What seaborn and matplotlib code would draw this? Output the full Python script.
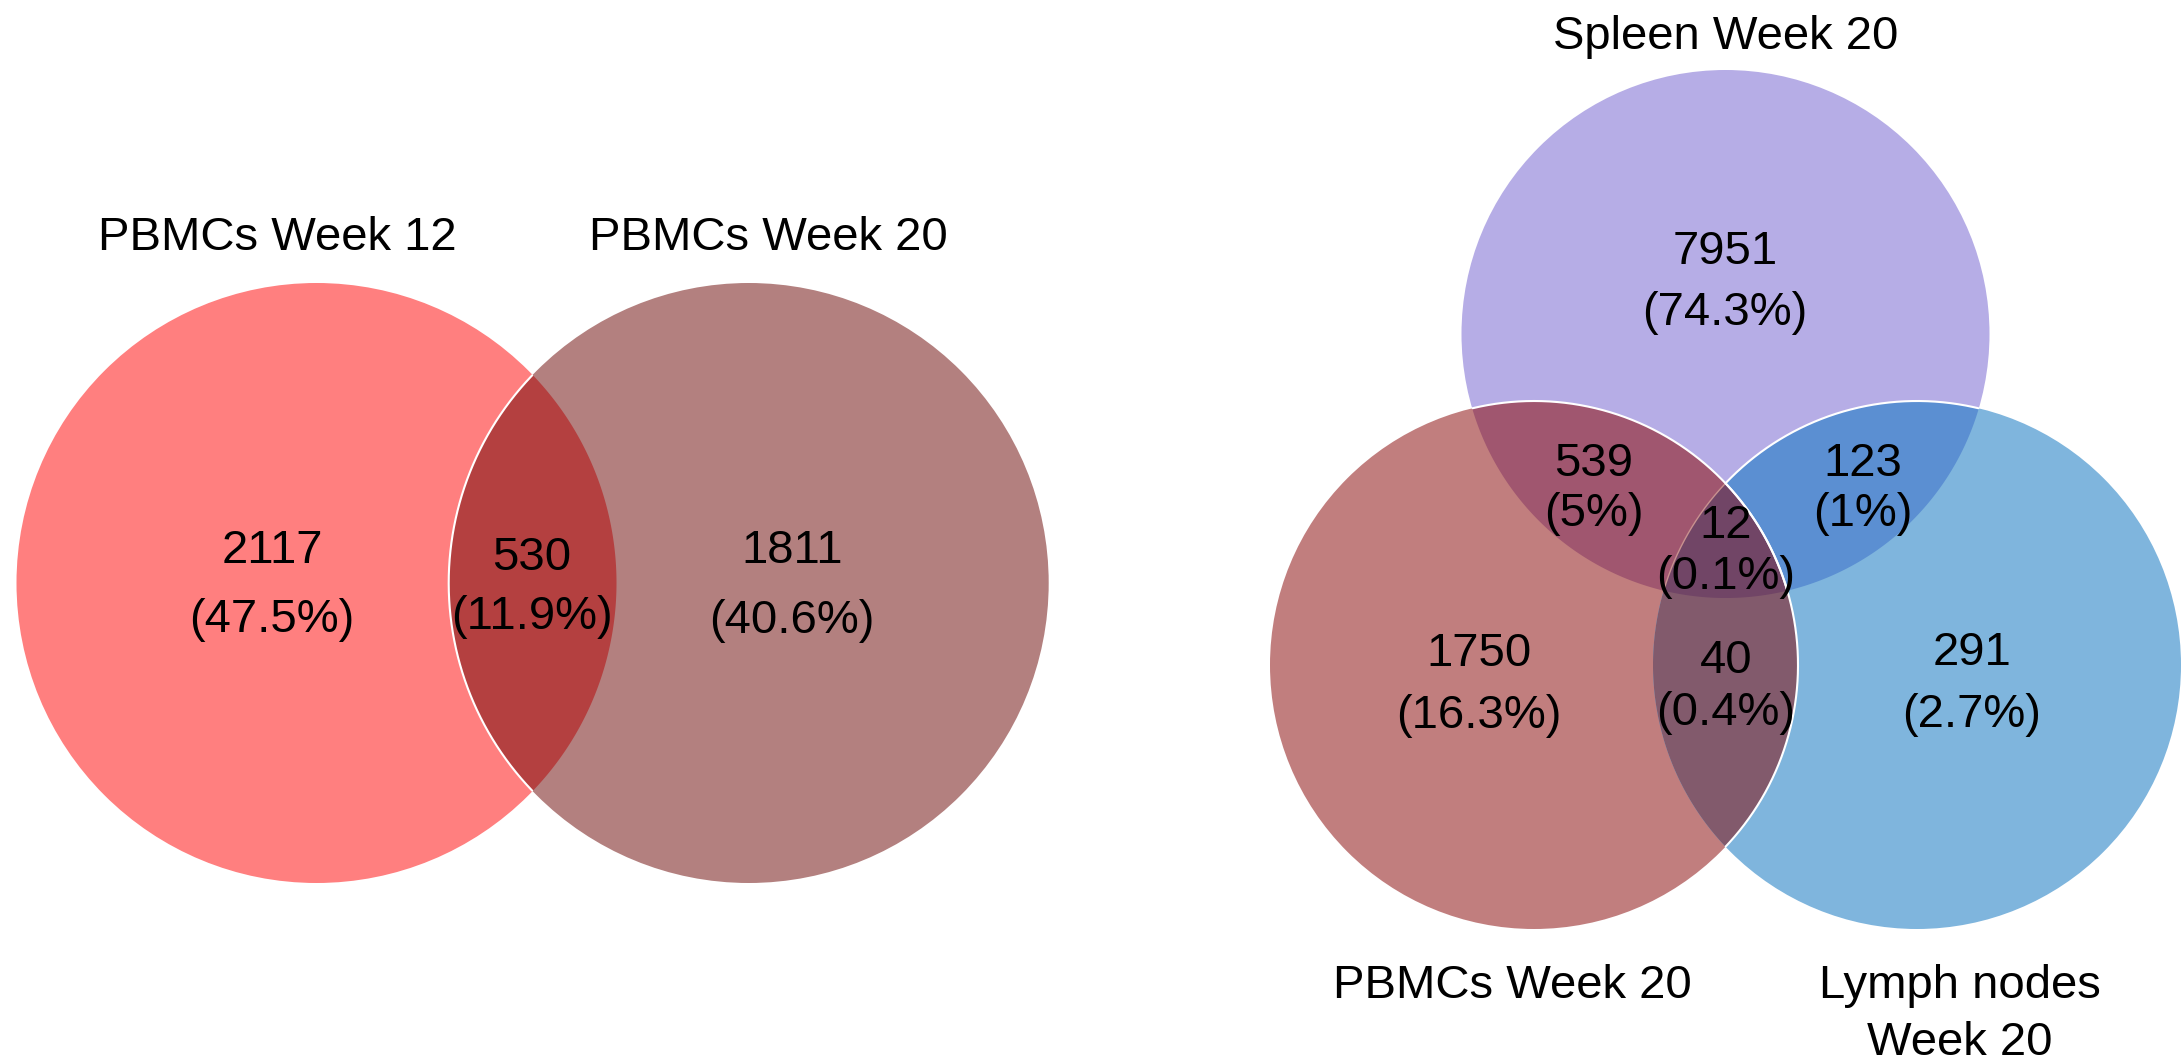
import numpy as np
import matplotlib
matplotlib.use("AGG")
import matplotlib.pyplot as plt
from matplotlib.patches import Circle
import seaborn as sns

# ---- data ----
left_sets = ["PBMCs Week 12", "PBMCs Week 20"]
left_regions = ["A", "AB", "B"]
left_counts = [2117, 530, 1811]
left_pcts = ["47.5%", "11.9%", "40.6%"]

right_sets = ["Spleen Week 20", "PBMCs Week 20", "Lymph nodes\nWeek 20"]
right_regions = ["S", "P", "L", "SP", "SL", "PL", "SPL"]
right_counts = [7951, 1750, 291, 539, 123, 40, 12]
right_pcts = ["74.3%", "16.3%", "2.7%", "5%", "1%", "0.4%", "0.1%"]

# ---- layout (pixel space of the output image) ----
W, H = 2182, 1064
left_circles = {"A": (316.5, 583, 300), "B": (748.7, 583, 300)}
right_circles = {"S": (1725.5, 334, 264), "P": (1534, 665, 264), "L": (1917, 665, 264)}

left_text_pos = {"A": (272, 563, 632), "AB": (532, 570, 629), "B": (792, 563, 633)}
right_text_pos = {"S": (1725, 264, 325), "P": (1479, 666, 728), "L": (1972, 665, 727),
                  "SP": (1594, 476, 526), "SL": (1863, 476, 526),
                  "PL": (1726, 673, 725), "SPL": (1726, 538, 589)}
left_label_pos = [(277, 250), (768, 250)]
right_label_pos = [(1726, 49), (1512, 998), (1960, 998)]

left_colors = {"A": "#FF7F7F", "B": "#B3807F", "AB": "#B44040"}
right_colors = {"S": "#B6ADE6", "P": "#C17E7E", "L": "#7FB5DD",
                "SP": "#A0566F", "SL": "#5B8FD2", "PL": "#825A6C", "SPL": "#714566"}

FS = 34


def inside(pts, c, tol=0.0):
    x, y, r = c
    return np.hypot(pts[:, 0] - x, pts[:, 1] - y) <= r + tol


def circle_pts(c, n=3000):
    x, y, r = c
    t = np.linspace(0, 2 * np.pi, n, endpoint=False)
    return np.column_stack([x + r * np.cos(t), y + r * np.sin(t)])


def intersection_poly(circles):
    # intersection of circles is convex: gather boundary points, sort by angle
    pts = []
    for i, c in enumerate(circles):
        p = circle_pts(c)
        keep = np.ones(len(p), bool)
        for j, o in enumerate(circles):
            if i != j:
                keep &= inside(p, o, 0.01)
        pts.append(p[keep])
    pts = np.vstack(pts)
    cx, cy = pts.mean(axis=0)
    order = np.argsort(np.arctan2(pts[:, 1] - cy, pts[:, 0] - cx))
    return pts[order]


def arc_runs(c, inside_of, outside_of=()):
    p = circle_pts(c)
    mask = np.ones(len(p), bool)
    for o in inside_of:
        mask &= inside(p, o)
    for o in outside_of:
        mask &= ~inside(p, o)
    if mask.all() or not mask.any():
        return [p] if mask.all() else []
    start = np.argmin(mask)
    p = np.roll(p, -start, axis=0)
    mask = np.roll(mask, -start)
    runs, cur = [], []
    for pt, m in zip(p, mask):
        if m:
            cur.append(pt)
        elif cur:
            runs.append(np.array(cur))
            cur = []
    if cur:
        runs.append(np.array(cur))
    return runs


def put_counts(ax, pos, regions, counts, pcts):
    for key, n, pc in zip(regions, counts, pcts):
        x, y1, y2 = pos[key]
        ax.text(x, y1, str(n), ha="center", va="baseline", fontsize=FS, color="black")
        ax.text(x, y2, "(" + pc + ")", ha="center", va="baseline", fontsize=FS, color="black")


sns.set_style("white")
plt.rcParams["font.family"] = ["Liberation Sans", "DejaVu Sans"]
plt.rcParams["text.color"] = "black"

fig = plt.figure(figsize=(W / 100, H / 100), dpi=100)
ax = fig.add_axes([0, 0, 1, 1])
ax.set_xlim(0, W)
ax.set_ylim(H, 0)
ax.axis("off")

# left diagram
for k in ["A", "B"]:
    x, y, r = left_circles[k]
    ax.add_patch(Circle((x, y), r, color=left_colors[k], lw=0))
lens = intersection_poly([left_circles["A"], left_circles["B"]])
ax.fill(lens[:, 0], lens[:, 1], color=left_colors["AB"], lw=0)
for run in arc_runs(left_circles["B"], [left_circles["A"]]):
    ax.plot(run[:, 0], run[:, 1], color="white", lw=1.5)
put_counts(ax, left_text_pos, left_regions, left_counts, left_pcts)
for name, (x, y) in zip(left_sets, left_label_pos):
    ax.text(x, y, name, ha="center", va="baseline", fontsize=FS, color="black")

# right diagram
S, P, L = right_circles["S"], right_circles["P"], right_circles["L"]
for k in ["S", "P", "L"]:
    x, y, r = right_circles[k]
    ax.add_patch(Circle((x, y), r, color=right_colors[k], lw=0))
for key, cs in [("SP", [S, P]), ("SL", [S, L]), ("PL", [P, L]), ("SPL", [S, P, L])]:
    poly = intersection_poly(cs)
    ax.fill(poly[:, 0], poly[:, 1], color=right_colors[key], lw=0)

for run in arc_runs(L, [S, P]):
    ax.plot(run[:, 0], run[:, 1], color="#C9918F", lw=1.0)
for run in arc_runs(P, [S]) + arc_runs(P, [L]) + arc_runs(L, [S], [P]):
    ax.plot(run[:, 0], run[:, 1], color="white", lw=1.5)

put_counts(ax, right_text_pos, right_regions, right_counts, right_pcts)
for name, (x, y) in zip(right_sets, right_label_pos):
    for i, line in enumerate(name.split("\n")):
        ax.text(x, y + i * 57, line, ha="center", va="baseline", fontsize=FS, color="black")

fig.savefig("out.png", dpi=100)
